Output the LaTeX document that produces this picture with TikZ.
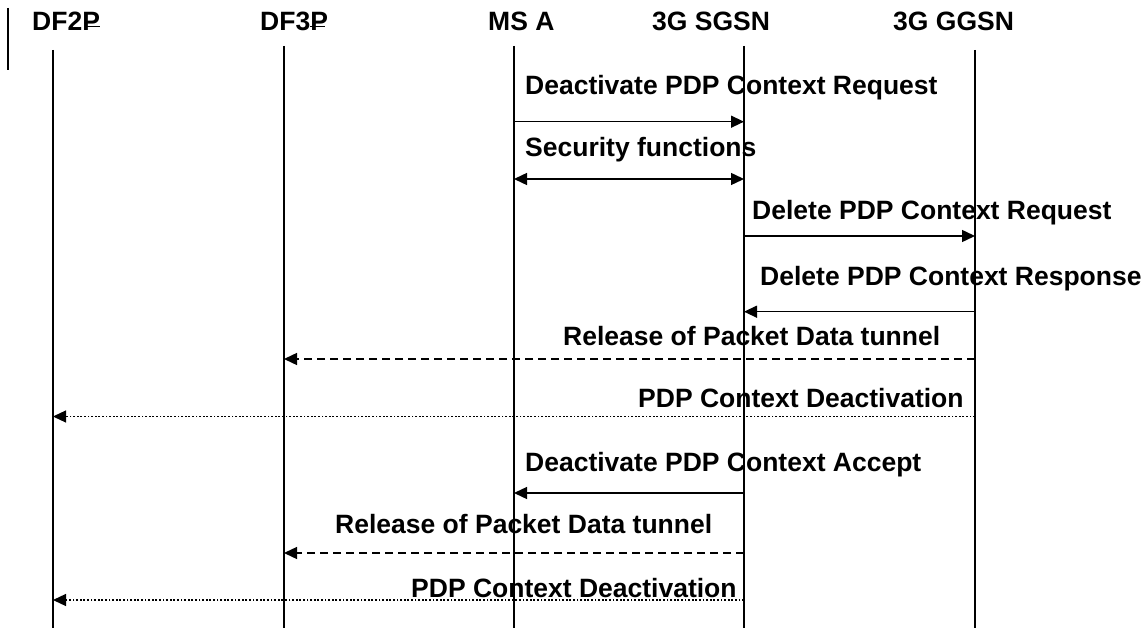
\documentclass[tikz,border=0pt]{standalone}
\usepackage{fontspec}
\setmainfont{Liberation Sans}
\usetikzlibrary{arrows.meta}
\begin{document}
\begin{tikzpicture}[x=1pt,y=-1pt,
  tip/.tip={Triangle[length=13pt,width=12pt]},
  lifeline/.style={line width=1.6pt,black},
  msg/.style={line width=1.4pt,-tip},
  dmsg/.style={line width=1.4pt,tip-tip},
  dashmsg/.style={line width=1.4pt,-tip,dash pattern=on 8pt off 5pt},
  dotmsg/.style={line width=1.2pt,-tip,dash pattern=on 1.8pt off 1.8pt},
  lbl/.style={anchor=base west,inner sep=0pt,font=\fontsize{26.5}{30}\selectfont\bfseries},
  mark line/.style={line width=1pt}]
\useasboundingbox (0,0) rectangle (1145,628);

% headers
\node[lbl] (hDF2) at (32,31) {DF2P};
\node[lbl] (hDF3) at (260,31) {DF3P};
\node[lbl] (hMS) at (488,31) {MS A};
\node[lbl] (hSG) at (652,31) {3G SGSN};
\node[lbl] (hGG) at (893,31) {3G GGSN};
\draw[mark line] (85,27) -- (100,27);
\draw[mark line] (310,27) -- (325,27);
\draw[line width=1.4pt] (8,8) -- (8,70);

% lifelines
\coordinate (df2t) at (53,50);  \coordinate (df2b) at (53,628);
\coordinate (df3t) at (284,46); \coordinate (df3b) at (284,628);
\coordinate (mst) at (514,46);  \coordinate (msb) at (514,628);
\coordinate (sgt) at (744,46);  \coordinate (sgb) at (744,628);
\coordinate (ggt) at (975,50);  \coordinate (ggb) at (975,628);
\draw[lifeline] (df2t) -- (df2b);
\draw[lifeline] (df3t) -- (df3b);
\draw[lifeline] (mst) -- (msb);
\draw[lifeline] (sgt) -- (sgb);
\draw[lifeline] (ggt) -- (ggb);

% 1
\node[lbl] (l1) at (525,95) {Deactivate PDP Context Request};
\coordinate (a1s) at (514,121.7); \coordinate (a1e) at (744,121.7);
\draw[msg] (a1s) -- (a1e);
% 2
\node[lbl] (l2) at (525,157) {Security functions};
\coordinate (a2s) at (514,179); \coordinate (a2e) at (744,179);
\draw[dmsg] (a2s) -- (a2e);
% 3
\node[lbl] (l3) at (752,220) {Delete PDP Context Request};
\coordinate (a3s) at (744,236); \coordinate (a3e) at (975,236);
\draw[msg] (a3s) -- (a3e);
% 4
\node[lbl] (l4) at (760,285) {Delete PDP Context Response};
\coordinate (a4s) at (975,311.7); \coordinate (a4e) at (744,311.7);
\draw[msg] (a4s) -- (a4e);
% 5
\node[lbl] (l5) at (563,345) {Release of Packet Data tunnel};
\coordinate (a5s) at (975,359); \coordinate (a5e) at (284,359);
\draw[dashmsg] (a5s) -- (a5e);
% 6
\node[lbl] (l6) at (638,407) {PDP Context Deactivation};
\coordinate (a6s) at (975,416.5); \coordinate (a6e) at (53,416.5);
\draw[dotmsg] (a6s) -- (a6e);
% 7
\node[lbl] (l7) at (525,471) {Deactivate PDP Context Accept};
\coordinate (a7s) at (744,493); \coordinate (a7e) at (514,493);
\draw[msg] (a7s) -- (a7e);
% 8
\node[lbl] (l8) at (335,533) {Release of Packet Data tunnel};
\coordinate (a8s) at (744,553); \coordinate (a8e) at (284,553);
\draw[dashmsg] (a8s) -- (a8e);
% 9
\node[lbl] (l9) at (411,597) {PDP Context Deactivation};
\coordinate (a9s) at (744,600); \coordinate (a9e) at (53,600);
\draw[dotmsg] (a9s) -- (a9e);
\end{tikzpicture}
\end{document}
